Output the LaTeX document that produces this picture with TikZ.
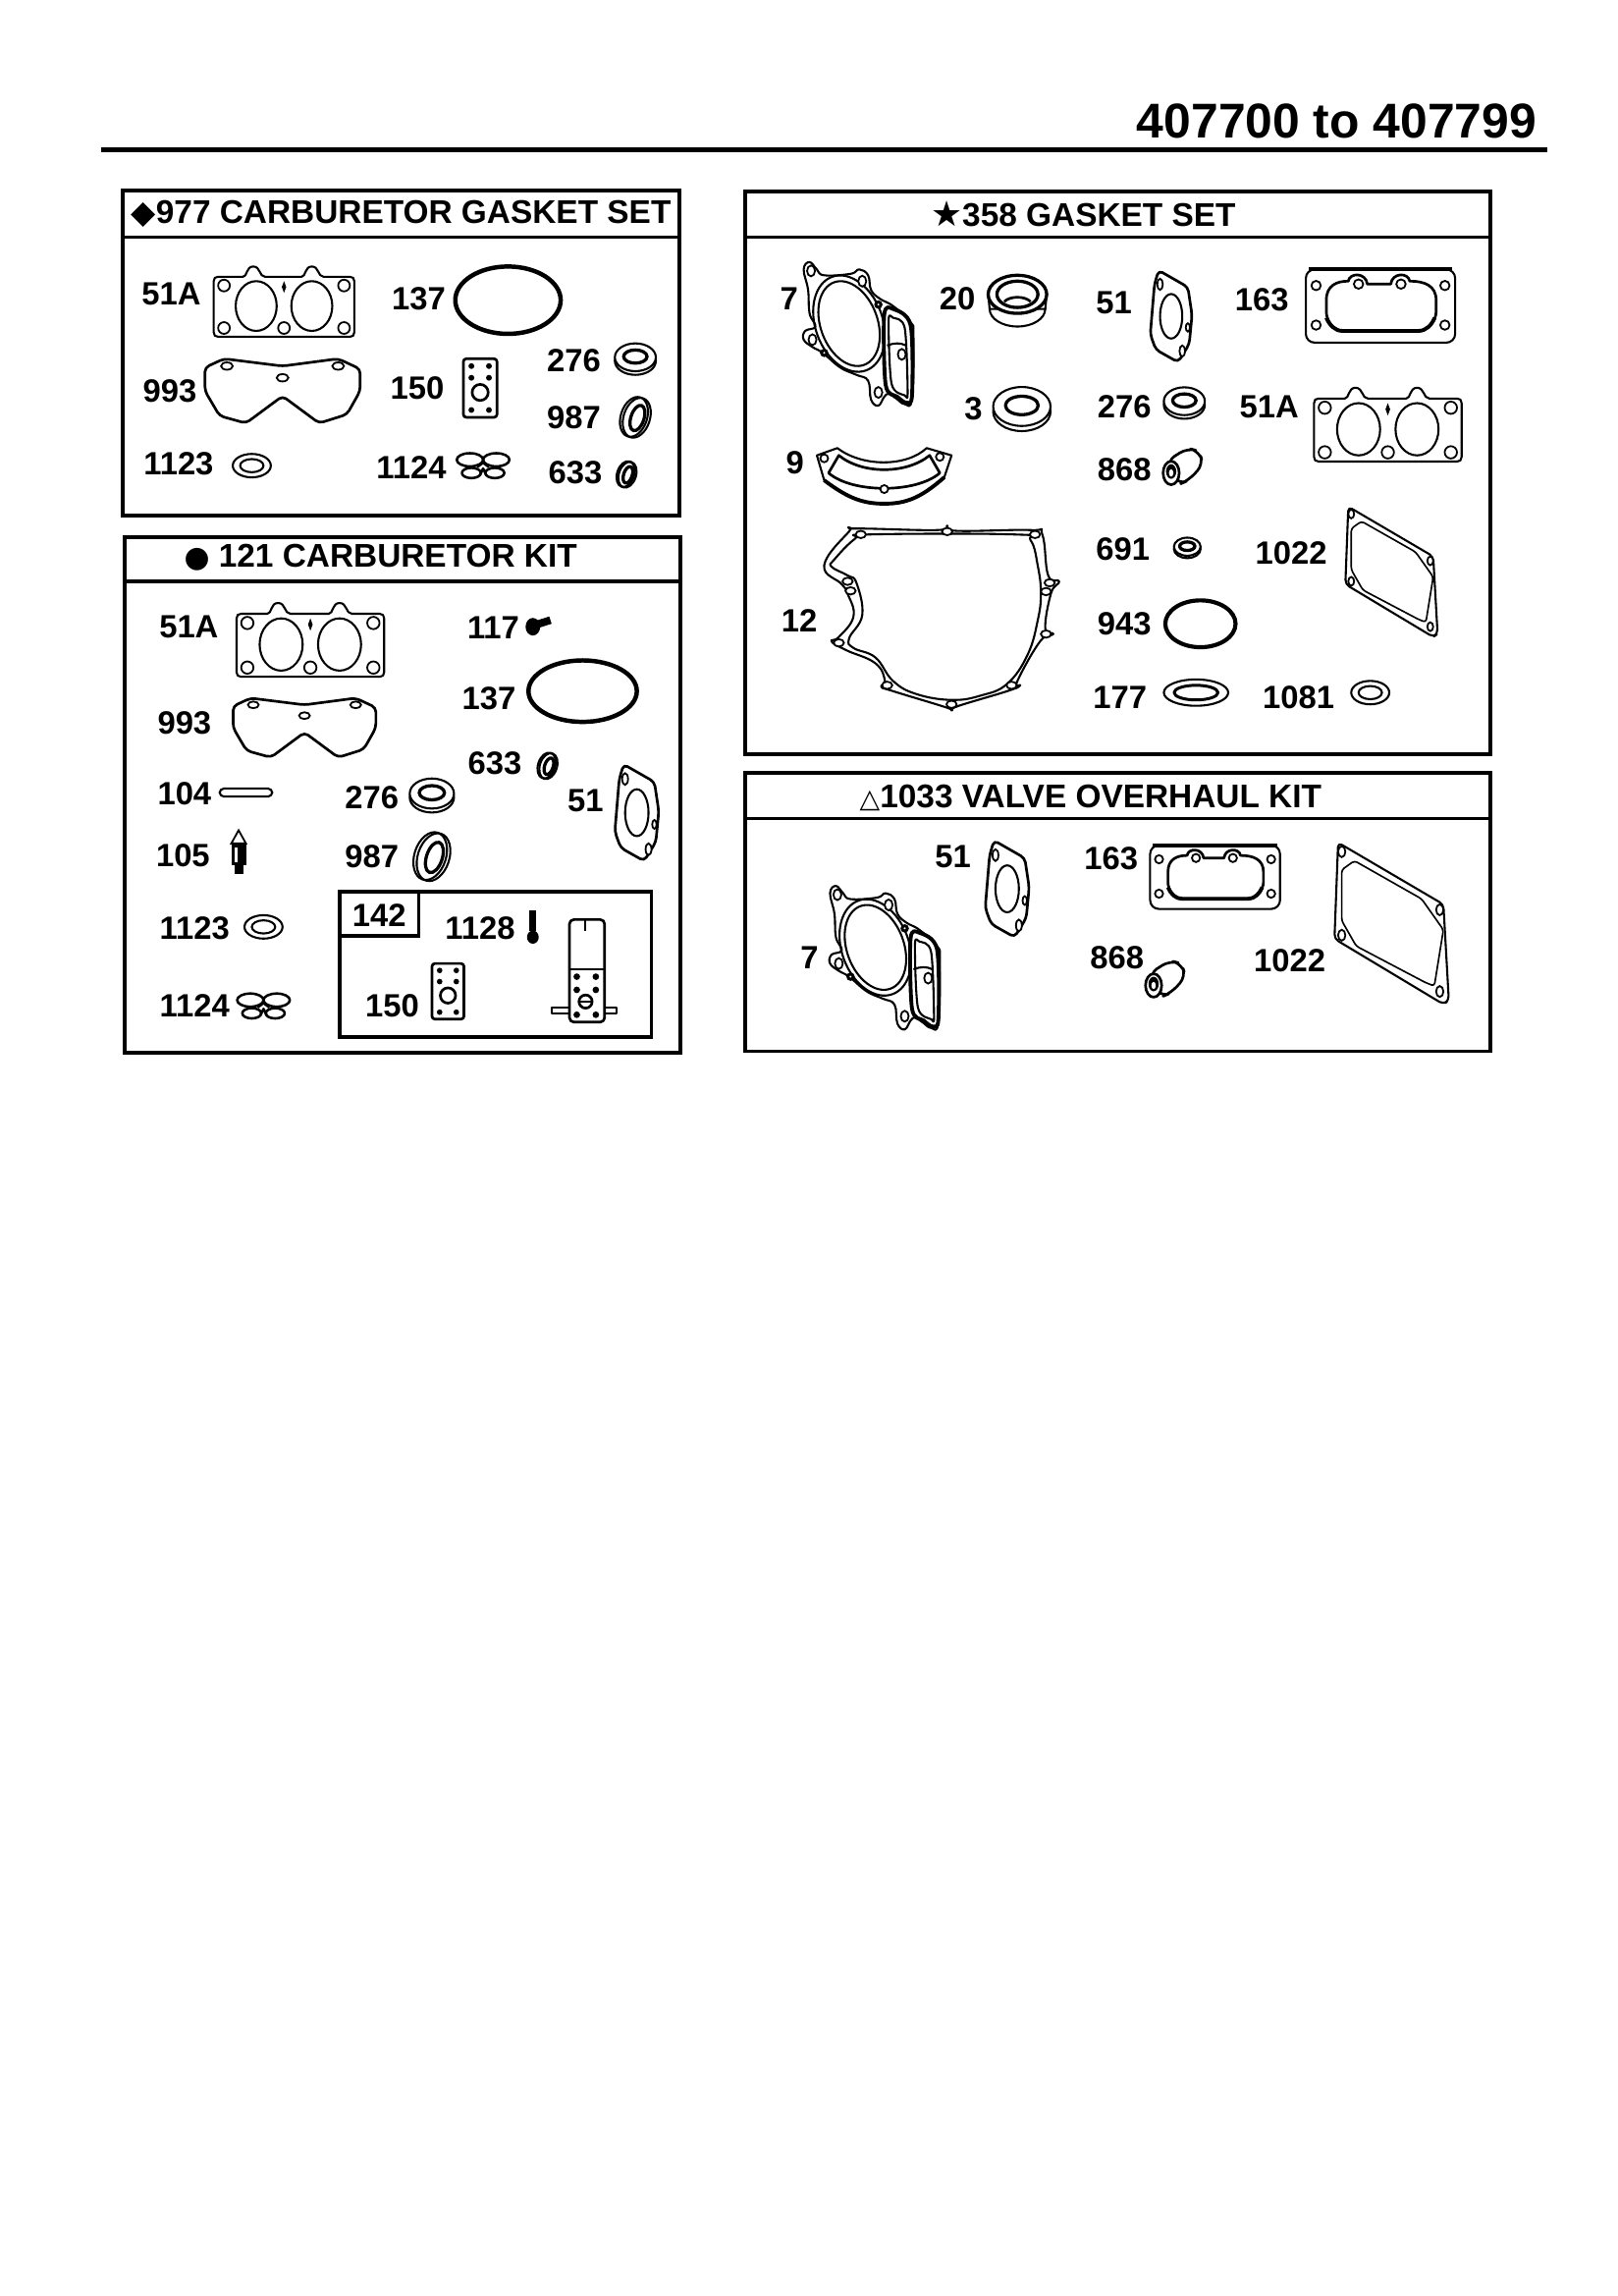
\documentclass[tikz,border=0pt]{standalone}
\usepackage{fontspec}
\setmainfont{Liberation Sans}
\newfontfamily\symf{DejaVu Sans}
\newcommand\lab[4]{\node[lab] (#1) at (#2,#3) {#4};}
\newcommand\ttl[4]{\node[ttl] (#1) at (#2,#3) {#4};}
\tikzset{
 lab/.style={font=\bfseries\fontsize{11}{13}\selectfont,inner sep=0pt},
 ttl/.style={font=\bfseries\fontsize{11.2}{13}\selectfont,inner sep=0pt},
 frm/.style={draw=black,line width=1.25pt},
 part/.style={draw=black,line width=.7pt,line join=round},
 thk/.style={draw=black,line width=1.3pt,line join=round},
 hole/.style={draw=black,fill=white,line width=.6pt},
 pics/carbface/.style={code={
  \draw[part,fill=white] (-45,-17) -- (-28,-17) .. controls (-25,-17) and (-26,-24) .. (-21,-24) .. controls (-16,-24) and (-17,-17) .. (-13,-17) -- (12,-17) .. controls (15,-17) and (14,-24) .. (19,-24) .. controls (24,-24) and (23,-17) .. (27,-17) -- (45,-17) .. controls (47,-17) and (48,-16) .. (48,-14) -- (48,21) .. controls (48,23) and (47,24) .. (45,24) -- (-45,24) .. controls (-47,24) and (-48,23) .. (-48,21) -- (-48,-14) .. controls (-48,-16) and (-47,-17) .. (-45,-17) -- cycle;
  \draw[part] (-19,3) ellipse [x radius=14,y radius=17];
  \draw[part] (19,3) ellipse [x radius=14,y radius=17];
  \foreach \a/\b in {-41/-11,41/-11,-41/18,41/18,0/18}{\draw[hole] (\a,\b) circle [radius=4];}
  \fill (0,-14) -- (1.5,-10) -- (0,-6) -- (-1.5,-10) -- cycle;
 }},
 pics/carbgasket/.style={code={
  \draw[part,line width=.9pt,fill=white,rounded corners=1.5pt] (-53,-16) -- (-40,-22) -- (0,-17) -- (38,-22) -- (53,-15) -- (53,0) -- (44,16) -- (25,22) -- (0,3.5) -- (-25,22) -- (-43,17) -- (-53,0) -- cycle;
  \foreach \a/\b in {-38/-17,38/-17,0/-9}{\draw[hole] (\a,\b) ellipse [x radius=4,y radius=2.5];}
 }},
 pics/carbplate/.style={code={
  \draw[part,line width=.9pt,rounded corners=1pt] (-11.5,-20) rectangle (11.5,20);
  \foreach \a/\b in {-6/-15,6/-15,-6/-7,6/-7,-6/15,6/15}{\fill (\a,\b) circle [radius=2];}
  \draw[part,line width=.9pt] (0,3) circle [radius=5.5];
 }},
 pics/sealw/.style={code={
  \draw[part,fill=white] (0,1.5) ellipse [x radius=14,y radius=9.5];
  \draw[part,fill=white] (0,-1) ellipse [x radius=14,y radius=9.5];
  \draw[part,line width=1.1pt] (0,-1.5) ellipse [x radius=8,y radius=4.5];
 }},
 pics/sealt/.style={code={
  \begin{scope}[rotate=-18]
  \draw[part,fill=white] (-1,0) ellipse [x radius=9,y radius=14];
  \draw[part] (1,0) ellipse [x radius=9,y radius=14];
  \draw[part,line width=1.1pt] (1.5,0) ellipse [x radius=4.5,y radius=9];
  \end{scope}
 }},
 pics/ring/.style={code={
  \draw[part] (0,0) ellipse [x radius=13,y radius=8];
  \draw[part] (0,0) ellipse [x radius=8,y radius=4.5];
 }},
 pics/ringlong/.style={code={
  \draw[part] (0,0) ellipse [x radius=22,y radius=9];
  \draw[part,line width=1pt] (0,0) ellipse [x radius=15,y radius=5];
 }},
 pics/lobes/.style={code={
  \draw[part,line width=.85pt] (-9,-4) ellipse [x radius=9,y radius=4.5];
  \draw[part,line width=.85pt] (9,-4) ellipse [x radius=9,y radius=4.5];
  \draw[part,line width=.85pt] (-8,5) ellipse [x radius=6.5,y radius=3.5];
  \draw[part,line width=.85pt] (8,5) ellipse [x radius=6.5,y radius=3.5];
  \draw[part,line width=.85pt] (-4,1) -- (0,-2) -- (4,1) (-2,6) -- (0,2) -- (2,6);
 }},
 pics/smallplate/.style={code={
  \draw[part,line width=.9pt,fill=white,rounded corners=1.5pt] (-9,-33) -- (12,-21) -- (15,-1) -- (13,20) -- (5,33) -- (-11,24) -- (-15,13) -- (-12,-23) -- cycle;
  \draw[part] (0,0) ellipse [x radius=8,y radius=16];
  \draw[hole] (-8,-23) ellipse [x radius=2,y radius=4];
  \draw[hole] (8,25) ellipse [x radius=2,y radius=4];
  \draw[hole] (12,8) ellipse [x radius=1.5,y radius=3];
 }},
 pics/headgasket/.style={code={
  \draw[part,fill=white] plot [smooth cycle,tension=.7] coordinates {(-38,-44) (-34,-49) (-29,-44) (-24,-40) (-6,-41) (0,-44) (6,-40) (8,-30) (14,-24) (23,-19) (35,-8) (37,2) (36,44) (31,48) (25,44) (20,41) (17,43) (13,49) (8,45) (6,32) (-2,28) (-13,23) (-25,13) (-32,9) (-38,4) (-37,-2) (-30,-5) (-34,-14) (-35,-30)};
  \draw[part,rotate around={20:(-7,-7)}] (-7,-7) ellipse [x radius=23,y radius=34];
  \draw[part,rotate around={20:(-7,-7)}] (-7,-7) ellipse [x radius=19.5,y radius=30];
  \draw[thk,fill=white] plot [smooth cycle,tension=.5] coordinates {(17,-13) (23,-17) (35,-6) (36,42) (32,47) (26,43) (18,35)};
  \draw[part] plot [smooth cycle,tension=.5] coordinates {(20,-9) (23,-11) (31,-4) (33,40) (31,42) (22,34)};
  \draw[part] (19,8) .. controls (24,6) and (28,6) .. (32,8);
  \foreach \a/\b in {-33/-43,2/-36,-32/4,13/40,29/14}{\draw[hole] (\a,\b) ellipse [x radius=2.7,y radius=3.7];}
  \foreach \a/\b in {13/-20,-24/13}{\draw[hole,line width=1pt] (\a,\b) circle [radius=1.8];}
 }},
 pics/bearing/.style={code={
  \draw[part,fill=white] (0,6) ellipse [x radius=19,y radius=12];
  \draw[part,fill=white] (-20,-4) -- (-19,6) -- (19,6) -- (20,-4) -- cycle;
  \draw[part,line width=1.1pt,fill=white] (0,-4) ellipse [x radius=20,y radius=13];
  \draw[part,line width=1.1pt] (0,-4) ellipse [x radius=14,y radius=9];
  \draw[part,line width=.9pt] (-9,1) .. controls (-5,-3) and (5,-3) .. (9,1);
 }},
 pics/valvecover/.style={code={
  \draw[part,fill=white,rounded corners=3pt] (-51,-25) rectangle (51,25);
  \draw[thk] (-49,-25) -- (49,-25);
  \draw[part,line width=.9pt] (-37,-4) .. controls (-37,-14) and (-30,-17) .. (-22,-17) .. controls (-21,-23) and (-10,-23) .. (-9,-15) -- (7,-15) .. controls (8,-23) and (19,-23) .. (20,-17) .. controls (30,-17) and (38,-14) .. (38,-4) -- (38,4) .. controls (38,10) and (32,17) .. (26,17) -- (-26,17) .. controls (-32,17) and (-37,10) .. (-37,4) -- cycle;
  \draw[thk] (37,8) .. controls (35,13) and (31,17) .. (26,17) -- (-26,17) .. controls (-31,17) and (-35,13) .. (-37,8);
  \foreach \a/\b in {-44/-14,44/-14,-44/13,44/13,-15/-15,14/-15}{\draw[hole] (\a,\b) circle [radius=3.2];}
 }},
 pics/arcgasket/.style={code={
  \draw[part,fill=white] (-46,-14) -- (-32,-19) .. controls (-15,-6) and (15,-6) .. (29,-19) -- (46,-14) -- (41,1) .. controls (25,15) and (15,19) .. (0,19) .. controls (-15,19) and (-25,15) .. (-41,3) -- cycle;
  \draw[part,line width=.9pt] (-38,-2) -- (-31,-14) .. controls (-15,-1) and (15,-1) .. (31,-14) -- (38,-2) .. controls (22,12) and (-22,12) .. (-38,-2) -- cycle;
  \draw[thk] (41,1) .. controls (25,15) and (15,19) .. (0,19) .. controls (-15,19) and (-25,15) .. (-41,3);
  \foreach \a/\b in {-41/-12,38/-13,0/9}{\draw[hole] (\a,\b) circle [radius=2.7];}
 }},
 pics/sleeve/.style={code={
  \draw[part,line width=.9pt,fill=white,rounded corners=3pt] (-11,-4) -- (3,-13) -- (11,-11) -- (14,-2) -- (4,9) -- (-3,12) -- cycle;
  \draw[part,line width=.9pt,fill=white] (-8,4) ellipse [x radius=5.5,y radius=8];
  \fill (-8,3) ellipse [x radius=3.5,y radius=5];
  \fill[white] (-8,4) ellipse [x radius=1.5,y radius=2.5];
 }},
 pics/crankgasket/.style={code={
  \draw[part,fill=white] plot [smooth cycle,tension=.75] coordinates {(-58,-61) (-3,-60) (4,-63) (10,-59.5) (61,-60) (69,-57) (73,-29) (80.5,-25) (75,-17) (71,7) (76.5,11) (67.5,16) (52,43) (54,46) (45,50) (12,60) (7,63) (3,61) (-33,50) (-41,47) (-38.5,43) (-45,31) (-65,22) (-75,16) (-70,13) (-60,-1) (-64,-16.5) (-68,-23) (-80,-36) (-63,-59)};
  \draw[part] plot [smooth cycle,tension=.7] coordinates {(-59,-54) (-49,-57) (50,-57) (61,-53) (66,-35) (68,-17) (66,1) (59,25) (45,45) (27,53) (7,56) (-17,52) (-33,43) (-45,27) (-60,20.5) (-63,14) (-54,-2) (-58,-24) (-64,-29) (-75,-35) (-73,-40)};
  \foreach \a/\b in {-55/-57,4/-59,64/-57,74/-24,71.5/-18,71.5/11,48/46,7/59,-37/46,-70/17,-64/-25,-62/-18.5}{\draw[hole] (\a,\b) ellipse [x radius=3.5,y radius=2.5];}
 }},
 pics/covergasket/.style={code={
  \draw[part,fill=white,rounded corners=1.5pt] (-29,-44) -- (29,-10) -- (32,43) -- (29,45) -- (-31,9) -- cycle;
  \draw[part,line width=.55pt,rounded corners=1pt] (-27,-29) -- (-20,-34) -- (17,-13) -- (29,4) -- (24,35) -- (19,33) -- (-19,13) -- (-27,-1) -- cycle;
  \foreach \a/\b in {-27/-39,27/-7,27/38,-27/7}{\draw[hole] (\a,\b) ellipse [x radius=2,y radius=3];}
 }},
}
\begin{document}
\begin{tikzpicture}[x=0.5pt,y=-0.5pt]
\useasboundingbox (0,0) rectangle (1105.2,1568);
\fill[white] (0,0) rectangle (1105.2,1568);
% header
\node[font=\bfseries\fontsize{16.7}{20}\selectfont,inner sep=0pt,anchor=east] (hdr) at (1050,83) {407700 to 407799};
\coordinate (hl) at (69,102); \coordinate (hr) at (1057,102);
\draw[line width=1.7pt] (hl) -- (hr);
% frames
\draw[frm] (84,130) rectangle (464,352); \draw[frm] (84,162) -- (464,162);
\draw[frm] (85,367) rectangle (465,719); \draw[frm] (85,397) -- (465,397);
\draw[frm] (509,131) rectangle (1018,515); \draw[frm] (509,162) -- (1018,162);
\draw[frm] (509,528) rectangle (1018,718); \draw[frm] (509,559) -- (1018,559);
\draw[frm] (232,609) rectangle (445,708); \draw[frm] (232,639) -| (286,609);
% titles
\ttl{ta}{274}{146}{{\symf\fontsize{11}{12}\selectfont ◆}977 CARBURETOR GASKET SET}
\ttl{tb}{260}{381}{{\symf\fontsize{10}{12}\selectfont ●} 121 CARBURETOR KIT}
\ttl{tc}{740}{146}{{\symf\fontsize{12}{12}\selectfont ★}358 GASKET SET}
\ttl{td}{745}{545}{{\symf\fontsize{9}{12}\selectfont △}1033 VALVE OVERHAUL KIT}
% box A
\lab{a1}{117}{201}{51A}\lab{a2}{286}{204}{137}\lab{a3}{116}{267}{993}\lab{a4}{285}{265}{150}\lab{a5}{392}{246}{276}\lab{a6}{392}{285}{987}\lab{a7}{122}{317}{1123}\lab{a8}{281}{319}{1124}\lab{a9}{393}{323}{633}
\pic at (194,206) {carbface};
\draw[part,line width=1.5pt] (347,205) ellipse [x radius=36,y radius=23];
\pic at (193,267) {carbgasket};
\pic at (328,265) {carbplate};
\pic at (434,245) {sealw};
\pic at (434,285) {sealt};
\pic at (172,318) {ring};
\pic at (330,318) {lobes};
\pic[scale=.65] at (428,324) {sealt};
% box B
\lab{b1}{129}{428}{51A}\lab{b2}{337}{429}{117}\lab{b3}{334}{477}{137}\lab{b4}{126}{494}{993}\lab{b5}{338}{521}{633}\lab{b6}{126}{542}{104}\lab{b7}{254}{545}{276}\lab{b8}{400}{547}{51}\lab{b9}{125}{584}{105}\lab{b10}{254}{585}{987}\lab{b11}{133}{634}{1123}\lab{b12}{259}{625}{142}\lab{b13}{328}{634}{1128}\lab{b14}{133}{687}{1124}\lab{b15}{268}{687}{150}
\pic[scale=1.05] at (212,437) {carbface};
\pic[scale=.92] at (208,497) {carbgasket};
\draw[part,line width=1.5pt] (398,472) ellipse [x radius=37,y radius=21];
\pic[scale=.65] at (374,523) {sealt};
\pic[scale=1.08] at (295,543) {sealw};
\pic[scale=1.2] at (295,585) {sealt};
\pic at (435,555) {smallplate};
\pic at (180,633) {ring};
\pic at (180,687) {lobes};
\pic[scale=.95] at (306,677) {carbplate};
% 117
\fill (364,428) ellipse [x radius=5,y radius=6];
\draw[line width=2.6pt] (365,427) -- (376,423.5);
% 104
\draw[part,rounded corners=1.5pt] (150,538.5) rectangle (186,544);
% 105
\fill[white,draw=black,line width=.6pt] (158,576) -- (163,567) -- (168,576) -- cycle;
\fill (158,576) rectangle (168,591);
\fill[white] (160,579) rectangle (162,589);
\fill (160,591) rectangle (166,597);
% 1128 bolt
\draw[line width=2.2pt] (364,622) -- (364,636);
\fill (364,640) ellipse [x radius=4,y radius=4.5];
% bracket
\draw[part,fill=white] (377,688) rectangle (421,692);
\draw[part,line width=.9pt,fill=white,rounded corners=1.5pt] (389,628) rectangle (413,698);
\draw[part,line width=.9pt] (389,662) -- (413,662);
\draw[part] (400,628) -- (400,636);
\foreach \a/\b in {394/667,407/667,394/676,407/676,394/693,407/693}{\draw[hole,fill=black] (\a,\b) circle [radius=1.6];}
\draw[part,line width=.9pt] (400,684) circle [radius=4.5];
\draw[part] (395.5,684) -- (404.5,684);
% box C
\lab{c1}{539}{204}{7}\lab{c2}{654}{204}{20}\lab{c3}{761}{207}{51}\lab{c4}{862}{205}{163}\lab{c5}{665}{279}{3}\lab{c6}{768}{278}{276}\lab{c7}{867}{278}{51A}\lab{c8}{543}{316}{9}\lab{c9}{768}{321}{868}\lab{c10}{767}{375}{691}\lab{c11}{882}{378}{1022}\lab{c12}{546}{424}{12}\lab{c13}{768}{426}{943}\lab{c14}{765}{476}{177}\lab{c15}{887}{476}{1081}
\pic at (587,228) {headgasket};
\pic at (695,205) {bearing};
\pic[scale=.95] at (800,216) {smallplate};
\pic at (943,209) {valvecover};
\pic[scale=1.4] at (698,279) {sealw};
\pic at (809,275) {sealw};
\pic[scale=1.05] at (948,290) {carbface};
\pic at (604,325) {arcgasket};
\pic at (808,319) {sleeve};
\pic[scale=.65] at (811,374) {sealw};
\pic at (950,390) {covergasket};
\pic at (643,422) {crankgasket};
\draw[part,line width=1.4pt] (820,426) ellipse [x radius=24,y radius=16];
\pic at (817,473) {ringlong};
\pic at (936,473) {ring};
% box D
\lab{d1}{651}{585}{51}\lab{d2}{759}{586}{163}\lab{d3}{553}{654}{7}\lab{d4}{763}{654}{868}\lab{d5}{881}{656}{1022}
\pic at (605,654) {headgasket};
\pic at (688,607) {smallplate};
\pic[scale=.87] at (830,599) {valvecover};
\pic at (796,669) {sleeve};
\pic[scale=1.24] at (950,630) {covergasket};
\end{tikzpicture}
\end{document}
